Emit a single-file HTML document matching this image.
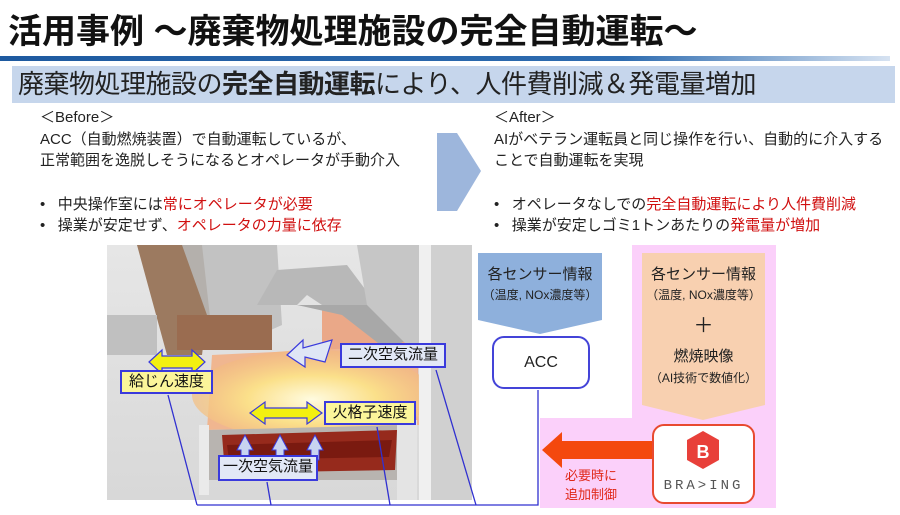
<!DOCTYPE html>
<html><head><meta charset="utf-8"><style>
*{margin:0;padding:0;box-sizing:border-box}
body{width:900px;height:515px;background:#fff;position:relative;overflow:hidden;font-family:"Liberation Sans","Noto Sans CJK JP",sans-serif;color:#222}
.a{position:absolute;white-space:nowrap}
.t{font-size:15px;line-height:20px}
.r{color:#d01010}
.lbl{position:absolute;border:2px solid #3a3adc;font-size:15px;line-height:20px;text-align:center;color:#111}
</style></head><body>
<div class="a" style="left:8px;top:4px;font-size:34px;font-weight:bold;color:#111">活用事例 ～廃棄物処理施設の完全自動運転～</div>
<div class="a" style="left:0;top:56px;width:890px;height:5px;background:linear-gradient(90deg,#1e5aa0 0%,#2e6cb0 70%,rgba(120,160,210,0.3) 100%)"></div>
<div class="a" style="left:12px;top:66px;width:883px;height:37px;background:#c6d6ec"></div>
<div class="a" style="left:18px;top:68px;font-size:26px;line-height:32px;color:#222;letter-spacing:-0.5px">廃棄物処理施設の<b>完全自動運転</b>により、人件費削減＆発電量増加</div>

<div class="a t" style="left:40px;top:108px">＜Before＞</div>
<div class="a t" style="left:40px;top:130px">ACC（自動燃焼装置）で自動運転しているが、</div>
<div class="a t" style="left:40px;top:151px">正常範囲を逸脱しそうになるとオペレータが手動介入</div>
<div class="a t" style="left:40px;top:195px">•&nbsp;&nbsp;&nbsp;中央操作室には<span class="r">常にオペレータが必要</span></div>
<div class="a t" style="left:40px;top:216px">•&nbsp;&nbsp;&nbsp;操業が安定せず、<span class="r">オペレータの力量に依存</span></div>

<svg class="a" style="left:435px;top:133px" width="50" height="80"><polygon points="2,0 22,0 46,38 22,78 2,78" fill="#9db6dc"/></svg>

<div class="a t" style="left:494px;top:108px">＜After＞</div>
<div class="a t" style="left:494px;top:130px">AIがベテラン運転員と同じ操作を行い、自動的に介入する</div>
<div class="a t" style="left:494px;top:151px">ことで自動運転を実現</div>
<div class="a t" style="left:494px;top:195px">•&nbsp;&nbsp;&nbsp;オペレータなしでの<span class="r">完全自動運転により人件費削減</span></div>
<div class="a t" style="left:494px;top:216px">•&nbsp;&nbsp;&nbsp;操業が安定しゴミ1トンあたりの<span class="r">発電量が増加</span></div>

<!-- furnace illustration -->
<svg class="a" style="left:107px;top:245px" width="365" height="255">
<defs>
<linearGradient id="bg" x1="0" y1="0" x2="0" y2="1"><stop offset="0" stop-color="#e6e6e6"/><stop offset="1" stop-color="#d8d8d8"/></linearGradient>
<radialGradient id="fire" cx="0.5" cy="0.55" r="0.6"><stop offset="0" stop-color="#fffbe0"/><stop offset="0.45" stop-color="#fbe08a"/><stop offset="1" stop-color="#f0b080" stop-opacity="0.6"/></radialGradient>
</defs>
<rect width="365" height="255" fill="url(#bg)"/>
<polygon points="215,55 310,55 312,170 215,170" fill="#eaa888"/>
<polygon points="105,110 310,100 312,180 100,185" fill="#f0b690"/>
<ellipse cx="205" cy="150" rx="120" ry="45" fill="url(#fire)"/>
<polygon points="60,0 120,0 118,70 80,90" fill="#b4b0ac"/>
<polygon points="95,0 170,0 175,80 130,100 105,90" fill="#c2c2c2"/>
<polygon points="170,25 240,20 270,60 215,60 200,50 190,60 150,60" fill="#b8b8b8"/>
<polygon points="190,60 270,60 300,95 280,105 235,70" fill="#a8a8a8"/>
<polygon points="250,0 320,0 320,100 300,100 260,60" fill="#c6c6c6"/>
<polygon points="30,0 75,0 100,70 95,110 60,110" fill="#9c7a60"/>
<rect x="70" y="70" width="95" height="35" fill="#9a6c50"/>
<rect x="0" y="70" width="50" height="40" fill="#c0c0c0"/>
<rect x="315" y="0" width="50" height="255" fill="#d0d0d0"/>
<rect x="312" y="0" width="12" height="255" fill="#f0f0f0"/>
<polygon points="100,185 300,180 305,235 100,235" fill="#b8b4b0"/>
<polygon points="115,190 290,185 288,225 118,228" fill="#962a1c"/>
<polygon points="120,200 285,195 282,212 122,215" fill="#7a1a10"/>
<rect x="92" y="180" width="10" height="70" fill="#eaeaea"/>
<rect x="290" y="175" width="20" height="80" fill="#e4e4e4"/>
<!-- arrows -->
<polygon points="42,117 55,105 55,111 85,111 85,105 98,117 85,129 85,123 55,123 55,129" fill="#f3f010" stroke="#3a3adc" stroke-width="1.2"/>
<polygon points="143,168 158,157 158,163 200,163 200,157 215,168 200,179 200,173 158,173 158,179" fill="#f3f010" stroke="#3a3adc" stroke-width="1.2"/>
<polygon points="180,110 196,95 196,103 225,95 218,117 198,112 198,122" fill="#dfe6f5" stroke="#3a3adc" stroke-width="1.2"/>
<polygon points="130,205 138,190 146,205 142,205 142,215 134,215 134,205" fill="#c8d4f0" stroke="#3a3adc" stroke-width="1"/>
<polygon points="165,205 173,190 181,205 177,205 177,215 169,215 169,205" fill="#c8d4f0" stroke="#3a3adc" stroke-width="1"/>
<polygon points="200,205 208,190 216,205 212,205 212,215 204,215 204,205" fill="#c8d4f0" stroke="#3a3adc" stroke-width="1"/>
</svg>

<div class="lbl" style="left:120px;top:370px;width:93px;height:24px;background:#fbf59a">給じん速度</div>
<div class="lbl" style="left:340px;top:343px;width:106px;height:25px;background:#e2e8f6">二次空気流量</div>
<div class="lbl" style="left:324px;top:401px;width:92px;height:24px;background:#fbf59a">火格子速度</div>
<div class="lbl" style="left:218px;top:455px;width:100px;height:26px;background:#e2e8f6">一次空気流量</div>

<!-- pink area -->
<div class="a" style="left:632px;top:245px;width:144px;height:263px;background:#fbd0fa"></div>
<div class="a" style="left:540px;top:418px;width:236px;height:90px;background:#fbd0fa"></div>

<svg class="a" style="left:0;top:0" width="900" height="515">
<g stroke="#3030d0" stroke-width="1.3" fill="none">
<polyline points="197,505 538,505 538,390"/>
<line x1="168" y1="395" x2="197" y2="505"/>
<line x1="267" y1="482" x2="271" y2="505"/>
<line x1="377" y1="427" x2="390" y2="505"/>
<line x1="436" y1="370" x2="476" y2="505"/>
</g>
<polygon points="478,253 602,253 602,320 540,334 478,320" fill="#8eb0dc"/>
<polygon points="642,253 765,253 765,405 703,420 642,405" fill="#f8d0b0"/>
<polygon points="542,450 562,432 562,441 652,441 652,459 562,459 562,468" fill="#f4480e"/>
</svg>
<div class="a" style="left:478px;top:265px;width:124px;text-align:center;font-size:15px;line-height:20px">各センサー情報</div>
<div class="a" style="left:478px;top:287px;width:124px;text-align:center;font-size:12px;line-height:16px">（温度, NOx濃度等）</div>
<div class="a" style="left:492px;top:336px;width:98px;height:53px;border:2px solid #4444d8;border-radius:12px;background:#fff;text-align:center;line-height:49px;font-size:16px">ACC</div>

<div class="a" style="left:642px;top:265px;width:123px;text-align:center;font-size:15px;line-height:20px">各センサー情報</div>
<div class="a" style="left:642px;top:287px;width:123px;text-align:center;font-size:12px;line-height:16px">（温度, NOx濃度等）</div>
<div class="a" style="left:642px;top:314px;width:123px;text-align:center;font-size:20px;line-height:24px">＋</div>
<div class="a" style="left:642px;top:347px;width:123px;text-align:center;font-size:15px;line-height:20px">燃焼映像</div>
<div class="a" style="left:642px;top:370px;width:123px;text-align:center;font-size:12px;line-height:16px">（AI技術で数値化）</div>

<div class="a" style="left:652px;top:424px;width:103px;height:80px;border:2px solid #e84a30;border-radius:12px;background:#fff"></div>
<svg class="a" style="left:685px;top:430px" width="36" height="40"><polygon points="18,1 34,10 34,30 18,39 2,30 2,10" fill="#e8403a"/><text x="18" y="28" text-anchor="middle" font-family="Liberation Sans" font-weight="bold" font-size="18" fill="#fff">B</text></svg>
<div class="a" style="left:652px;top:478px;width:103px;text-align:center;font-size:14px;letter-spacing:3px;color:#555;font-family:'Liberation Mono',monospace">BRA&gt;ING</div>
<div class="a" style="left:565px;top:466px;font-size:13px;line-height:19px;color:#e02818">必要時に<br>追加制御</div>
</body></html>
